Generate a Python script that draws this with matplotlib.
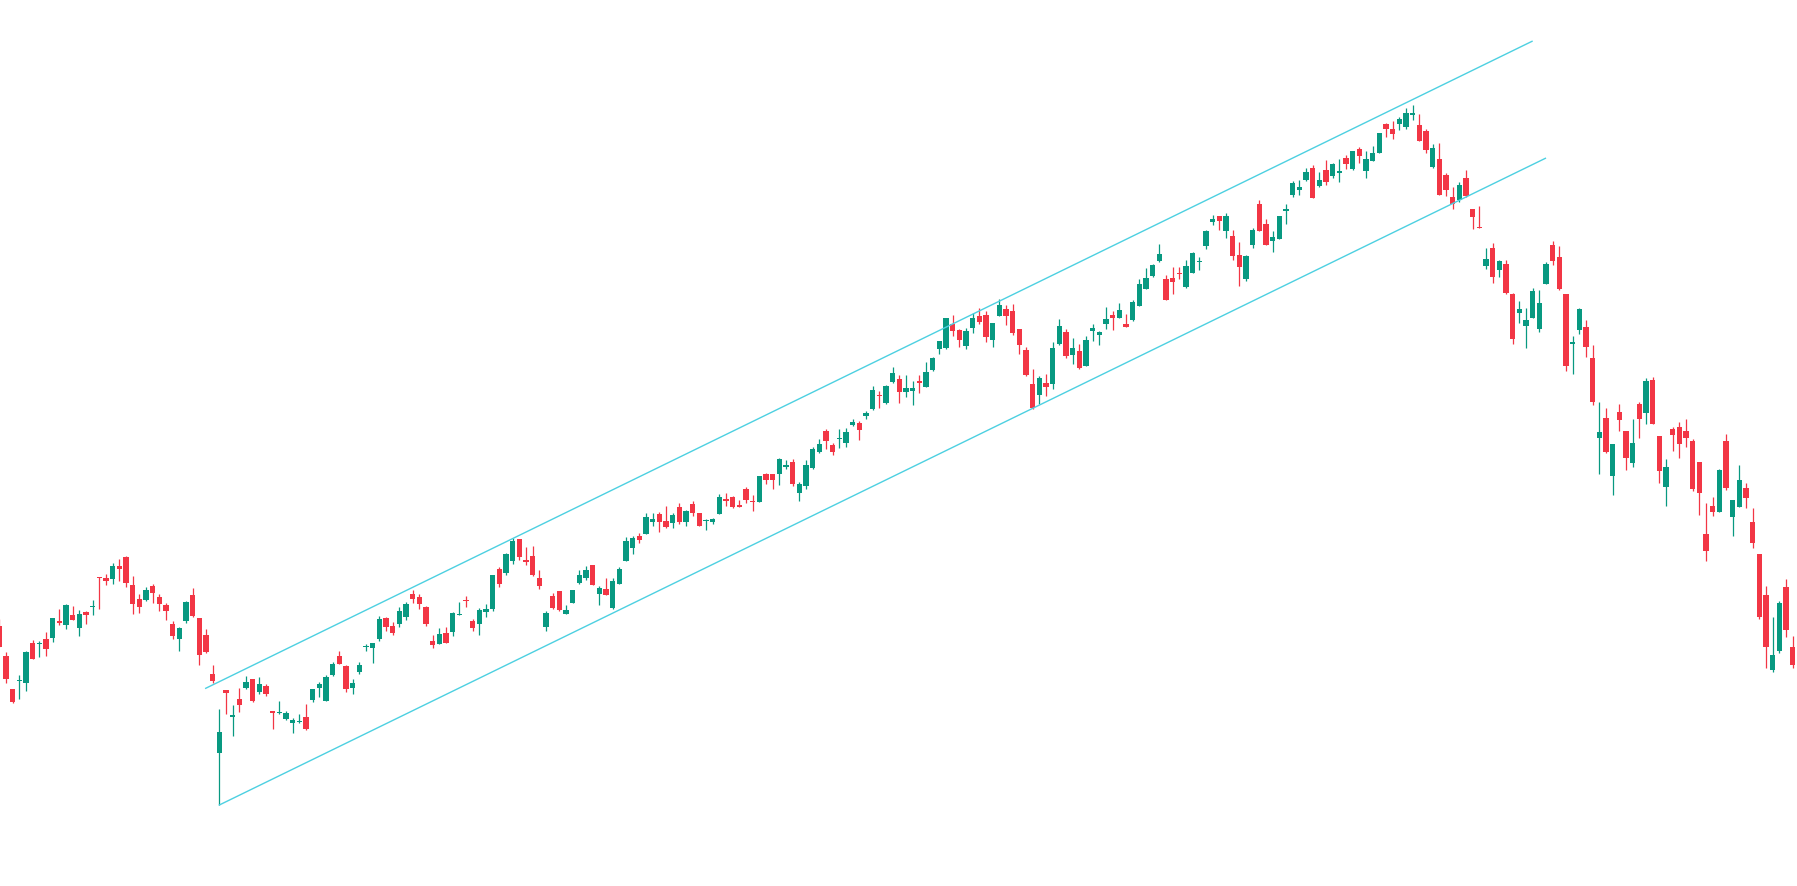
import numpy as np
import matplotlib
matplotlib.use('Agg')
import matplotlib.pyplot as plt

# OHLC, one value per bar
opens = [
    26.00, 23.00, 19.70, 20.53, 20.33, 24.30, 24.20, 24.67, 24.83, 26.50,
    26.13, 27.07, 25.83, 27.43, 27.93, 30.90, 30.80, 30.73, 32.00, 32.93,
    30.10, 28.70, 28.63, 30.00, 28.90, 28.10, 26.20, 24.73, 26.47, 29.10,
    26.77, 25.07, 21.20, 13.27, 19.60, 16.90, 18.70, 19.83, 20.70, 19.40,
    19.97, 17.50, 17.30, 16.73, 16.30, 16.43, 16.90, 18.60, 19.83, 18.50,
    21.10, 23.03, 22.03, 19.83, 21.37, 23.87, 23.83, 24.73, 26.80, 26.00,
    26.17, 26.93, 29.20, 28.93, 27.90, 24.50, 24.23, 25.27, 25.40, 27.13,
    28.60, 26.47, 26.17, 27.40, 27.73, 31.67, 31.27, 32.53, 34.70, 32.63,
    33.00, 30.77, 25.87, 29.00, 29.50, 27.23, 28.33, 30.30, 30.80, 32.10,
    29.17, 29.70, 27.83, 30.23, 32.53, 33.83, 35.00, 35.23, 36.43, 37.20,
    36.50, 36.33, 37.87, 36.43, 38.20, 37.27, 36.50, 36.37, 37.17, 38.70,
    38.87, 38.10, 39.67, 38.50, 38.37, 41.23, 41.25, 41.17, 41.93, 42.37,
    39.33, 40.03, 41.83, 43.40, 45.50, 44.07, 44.73, 44.33, 46.13, 46.27,
    47.00, 47.67, 49.10, 48.33, 50.40, 50.73, 49.43, 49.53, 50.47, 49.93,
    51.57, 53.73, 53.83, 56.20, 55.60, 54.00, 55.83, 57.00, 57.07, 54.63,
    56.97, 57.67, 57.53, 55.67, 53.60, 50.20, 49.13, 50.30, 50.20, 54.20,
    55.43, 53.13, 53.50, 52.03, 55.53, 55.07, 56.23, 57.10, 56.83, 56.17,
    56.63, 58.03, 59.73, 61.03, 62.50, 60.70, 60.83, 61.30, 59.90, 61.33,
    62.37, 64.03, 66.43, 67.00, 65.50, 65.03, 63.10, 60.67, 64.10, 68.20,
    66.20, 64.47, 64.73, 67.53, 69.07, 69.57, 70.60, 71.80, 70.00, 71.60,
    71.00, 71.27, 72.83, 71.70, 73.70, 71.53, 72.53, 73.27, 76.20, 75.67,
    76.23, 75.87, 77.13, 76.10, 75.50, 71.90, 72.67, 71.10, 68.90, 68.57,
    70.83, 67.70, 65.83, 62.03, 63.77, 61.60, 62.20, 59.17, 57.27, 56.03,
    56.77, 55.73, 60.23, 64.10, 62.93, 59.17, 54.23, 55.60, 55.87, 52.80,
    44.77, 46.83, 41.00, 47.43, 45.50, 42.27, 48.20, 47.33, 50.60, 45.03,
    39.93, 45.67, 45.87, 45.50, 44.47, 42.40, 35.20, 38.00, 37.43, 44.47,
    36.93, 37.93, 39.77, 36.37, 33.17, 29.10, 21.60, 23.50, 29.93, 23.93,
    23.40,
]
highs = [
    26.73, 23.40, 19.70, 21.10, 23.50, 24.60, 24.50, 25.40, 26.80, 27.67,
    28.20, 28.00, 27.57, 27.53, 28.57, 30.90, 31.20, 32.27, 32.70, 33.03,
    31.00, 29.17, 29.90, 30.20, 29.17, 28.27, 26.50, 25.87, 28.50, 29.83,
    26.77, 25.70, 22.10, 17.70, 19.60, 18.10, 19.85, 21.00, 20.70, 20.93,
    20.20, 17.50, 18.50, 17.50, 16.83, 17.20, 18.23, 19.70, 20.37, 21.10,
    22.40, 23.50, 22.10, 20.73, 22.37, 24.20, 24.30, 27.03, 26.93, 26.40,
    27.87, 28.40, 29.60, 29.17, 27.97, 25.10, 25.83, 25.90, 27.37, 28.40,
    29.00, 26.70, 27.77, 28.20, 31.07, 31.93, 33.27, 34.77, 34.70, 33.90,
    33.97, 31.60, 27.47, 29.27, 29.50, 28.13, 29.57, 31.57, 32.00, 32.10,
    30.03, 30.80, 30.80, 31.93, 34.90, 34.97, 35.27, 37.27, 37.27, 37.40,
    37.97, 37.27, 38.30, 37.60, 38.50, 37.27, 36.73, 36.80, 39.17, 39.27,
    39.03, 38.63, 39.93, 39.10, 40.97, 41.33, 41.25, 42.83, 42.60, 42.70,
    40.40, 42.60, 43.90, 44.70, 45.67, 44.27, 45.70, 45.83, 46.70, 46.50,
    47.50, 49.97, 49.53, 50.10, 51.93, 51.07, 51.07, 50.47, 51.07, 52.37,
    52.90, 54.50, 56.77, 57.07, 55.70, 55.83, 57.27, 57.80, 57.50, 56.30,
    58.70, 58.10, 58.20, 55.67, 53.90, 51.67, 50.97, 51.20, 54.37, 56.70,
    55.67, 54.83, 54.20, 55.00, 56.23, 55.53, 57.87, 57.50, 58.30, 57.17,
    58.60, 60.70, 61.80, 62.20, 64.17, 61.10, 61.90, 61.93, 62.60, 63.40,
    62.90, 65.57, 67.13, 67.00, 67.27, 65.60, 64.37, 63.07, 65.77, 68.57,
    66.67, 65.53, 67.03, 68.17, 70.53, 70.57, 71.80, 72.10, 71.43, 72.60,
    72.27, 72.70, 73.07, 73.53, 73.93, 73.50, 74.03, 75.30, 76.30, 76.50,
    76.90, 77.77, 78.10, 77.20, 75.67, 74.20, 74.33, 71.30, 69.87, 70.37,
    71.60, 67.70, 68.03, 63.80, 64.27, 62.60, 62.60, 59.27, 58.50, 57.80,
    59.77, 59.60, 62.37, 64.50, 64.00, 59.17, 55.00, 57.83, 56.60, 54.10,
    48.40, 47.77, 44.17, 48.20, 45.50, 46.70, 48.37, 50.80, 50.90, 45.03,
    42.67, 45.87, 46.40, 46.70, 44.70, 42.40, 38.27, 38.87, 41.70, 45.20,
    38.60, 42.07, 40.27, 37.83, 33.17, 30.00, 26.90, 28.50, 30.70, 25.00,
    23.80,
]
lows = [
    23.87, 20.33, 18.30, 18.67, 19.53, 22.70, 22.87, 23.03, 24.43, 26.13,
    25.73, 26.63, 25.03, 26.23, 27.13, 27.67, 30.13, 30.17, 30.50, 29.93,
    27.23, 27.33, 28.53, 28.33, 27.50, 26.63, 24.67, 23.53, 26.33, 26.90,
    22.13, 23.33, 20.27, 8.10, 17.17, 15.00, 17.43, 19.72, 18.43, 19.23,
    18.97, 15.70, 17.17, 16.63, 15.27, 16.27, 15.63, 18.43, 18.93, 18.50,
    21.00, 22.23, 19.43, 19.23, 21.20, 23.53, 22.27, 24.53, 25.47, 25.07,
    25.87, 26.57, 28.27, 27.73, 26.03, 23.77, 24.23, 24.33, 25.03, 27.13,
    27.87, 25.53, 25.10, 26.93, 27.53, 29.87, 31.13, 32.17, 32.60, 32.13,
    31.00, 29.73, 25.47, 27.73, 27.50, 27.17, 28.33, 30.20, 30.63, 30.13,
    28.13, 29.07, 27.70, 30.17, 32.53, 33.23, 34.27, 35.23, 36.03, 35.43,
    35.83, 35.83, 36.20, 36.03, 36.97, 36.03, 35.63, 36.17, 37.17, 38.00,
    37.77, 37.93, 38.30, 37.53, 38.37, 40.23, 39.73, 40.13, 41.73, 40.03,
    38.47, 39.67, 41.67, 43.30, 43.70, 43.13, 43.83, 43.90, 46.03, 44.63,
    46.73, 47.60, 47.80, 48.23, 50.33, 48.33, 48.93, 48.13, 49.27, 49.93,
    51.53, 53.17, 53.67, 55.03, 53.93, 53.73, 55.30, 56.20, 54.37, 53.93,
    56.97, 56.10, 55.10, 53.17, 51.00, 47.73, 48.23, 49.00, 49.67, 54.07,
    52.83, 52.23, 51.70, 52.03, 54.53, 54.10, 55.73, 55.60, 56.83, 55.93,
    56.47, 58.03, 59.73, 60.87, 62.40, 58.57, 59.17, 60.67, 59.83, 61.27,
    61.57, 63.67, 66.13, 65.60, 64.77, 62.60, 60.03, 60.47, 63.83, 65.50,
    64.13, 63.43, 64.73, 66.23, 68.90, 69.07, 70.47, 68.77, 69.90, 70.10,
    70.80, 70.43, 71.70, 71.60, 72.33, 70.83, 72.53, 73.27, 74.93, 74.73,
    75.57, 75.73, 76.60, 74.53, 73.27, 71.83, 69.07, 69.00, 67.73, 68.43,
    68.87, 65.67, 65.77, 61.75, 60.33, 60.93, 59.20, 54.23, 56.33, 53.77,
    56.77, 55.43, 60.23, 62.13, 59.57, 51.53, 51.20, 55.17, 52.93, 48.10,
    41.23, 43.33, 39.10, 45.53, 41.63, 41.93, 44.80, 46.20, 46.20, 40.27,
    38.00, 43.53, 42.83, 43.93, 39.47, 37.13, 32.53, 37.03, 37.43, 39.63,
    35.03, 37.90, 37.83, 33.83, 26.70, 21.80, 21.40, 23.27, 24.93, 21.80,
    23.40,
]
closes = [
    23.93, 20.73, 18.37, 20.60, 23.43, 22.70, 24.30, 23.73, 26.80, 26.33,
    28.10, 26.63, 27.20, 27.13, 28.00, 30.80, 30.53, 32.00, 31.70, 30.33,
    28.23, 27.93, 29.57, 29.33, 28.17, 27.53, 25.03, 25.80, 28.43, 27.00,
    23.13, 23.43, 20.53, 15.40, 19.33, 17.10, 18.07, 20.43, 18.50, 20.17,
    19.23, 17.27, 17.43, 17.30, 16.57, 16.53, 15.73, 19.70, 20.17, 20.90,
    22.20, 22.23, 19.70, 20.33, 22.10, 24.00, 24.30, 26.70, 25.93, 25.33,
    27.50, 28.23, 28.73, 28.23, 26.23, 24.07, 25.20, 24.33, 27.27, 27.20,
    28.47, 25.83, 27.63, 27.67, 31.07, 30.25, 33.17, 34.50, 32.93, 32.40,
    31.13, 30.03, 27.33, 27.83, 27.57, 27.60, 29.57, 31.13, 31.63, 30.13,
    29.77, 29.13, 30.47, 31.73, 34.50, 34.83, 34.57, 36.93, 36.70, 36.40,
    35.93, 37.07, 36.37, 37.53, 37.33, 36.03, 36.57, 36.67, 38.87, 38.53,
    37.87, 37.93, 38.60, 38.37, 40.97, 40.60, 40.57, 42.67, 42.07, 40.20,
    40.20, 42.07, 43.73, 44.17, 44.50, 43.43, 44.83, 45.37, 46.40, 45.63,
    47.30, 49.60, 48.97, 50.03, 51.27, 49.43, 49.83, 49.83, 50.30, 51.37,
    52.80, 54.50, 56.77, 55.53, 54.60, 55.50, 56.80, 56.43, 54.93, 56.30,
    58.10, 57.03, 55.30, 54.10, 51.07, 47.83, 50.77, 49.93, 53.77, 56.03,
    53.03, 53.80, 51.83, 54.60, 55.83, 55.43, 56.70, 56.83, 57.60, 55.93,
    58.40, 60.20, 60.80, 62.10, 63.23, 58.57, 60.37, 61.23, 62.00, 63.33,
    62.47, 65.50, 66.70, 66.53, 67.00, 63.03, 61.93, 63.00, 65.60, 65.50,
    64.13, 64.87, 67.00, 67.67, 70.27, 69.87, 71.40, 68.77, 70.60, 70.40,
    72.20, 71.50, 72.20, 73.53, 73.00, 72.67, 73.27, 75.30, 75.73, 75.23,
    76.70, 77.30, 77.30, 74.53, 73.60, 73.80, 69.13, 69.57, 68.20, 70.10,
    69.00, 66.93, 65.77, 62.67, 60.93, 62.50, 59.33, 54.70, 57.67, 56.60,
    59.50, 58.30, 62.17, 62.50, 59.70, 52.00, 54.37, 57.70, 53.93, 48.37,
    45.40, 43.43, 44.17, 46.57, 42.83, 44.33, 46.73, 50.50, 46.20, 41.50,
    41.87, 45.10, 44.23, 44.83, 39.70, 39.33, 33.50, 37.43, 41.60, 39.80,
    38.60, 40.60, 38.83, 34.27, 26.93, 23.93, 23.10, 28.33, 25.60, 22.10,
    23.80,
]

# parallel channel anchors (bar index, price)
upper_x = [30.96, 229.9]
upper_y = [19.77, 84.47]
lower_x = [33.0, 231.9]
lower_y = [8.10, 72.77]

UP = '#089981'
DOWN = '#F23645'
CHANNEL = '#4DD0E1'

o = np.array(opens)
h = np.array(highs)
l = np.array(lows)
c = np.array(closes)
idx = np.arange(len(o))
colors = np.where(c >= o, UP, DOWN)

fig = plt.figure(figsize=(17.97, 8.86), dpi=100)
ax = fig.add_axes([0, 0, 1, 1])

# wicks then bodies
ax.vlines(idx, l, h, colors=colors, linewidth=0.9, zorder=2)
body_low = np.minimum(o, c)
body_h = np.maximum(np.abs(c - o), 0.12)
ax.bar(idx, body_h, bottom=body_low, width=0.8, color=colors, linewidth=0, zorder=3)

ax.plot(upper_x, upper_y, color=CHANNEL, linewidth=1.0, zorder=4)
ax.plot(lower_x, lower_y, color=CHANNEL, linewidth=1.0, zorder=4)

ax.set_xlim(0.105, 269.64)
ax.set_ylim(0, 88.6)
ax.axis('off')

fig.savefig('out.png', dpi=100)
